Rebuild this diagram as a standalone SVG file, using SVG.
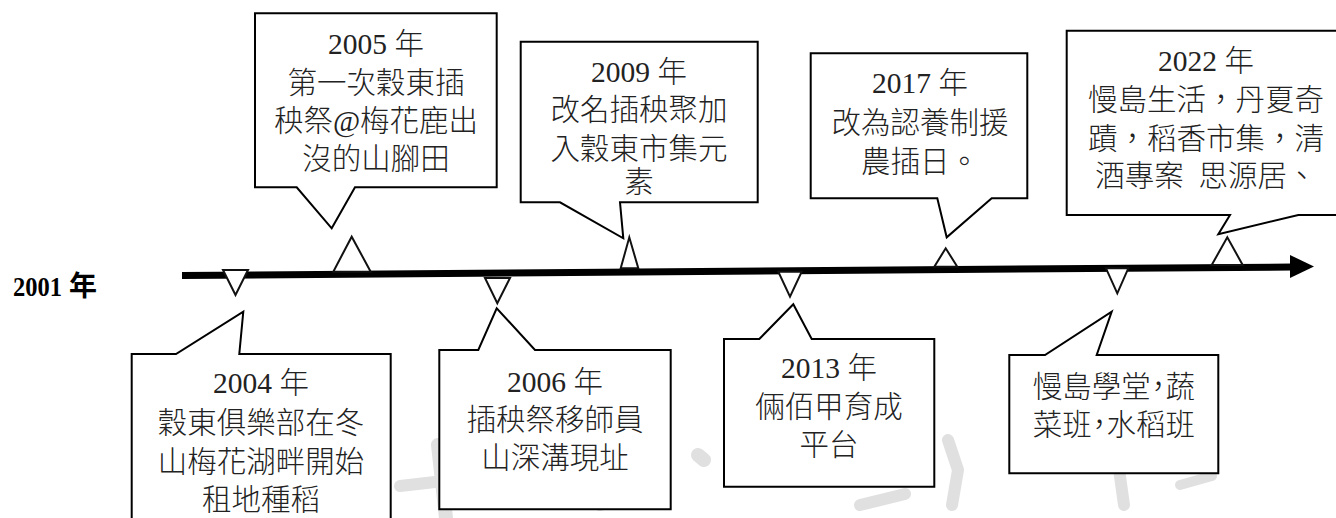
<svg xmlns="http://www.w3.org/2000/svg" width="1336" height="518" viewBox="0 0 1336 518">
<style>
.wm{fill:none;stroke:#e0e0e0;stroke-linecap:round;stroke-linejoin:round}
.box{fill:#fff;stroke:#000;stroke-width:2}
.tri{fill:#fff;stroke:#111;stroke-width:2;stroke-linejoin:miter}
.t{font-family:"Liberation Serif","Noto Sans CJK TC",serif;font-size:29.5px;font-weight:300;fill:#222;text-anchor:middle}
.lbl{font-family:"Liberation Serif","Noto Sans CJK TC",serif;font-size:28px;font-weight:bold;fill:#000}
</style>
<rect width="1336" height="518" fill="#fff"/>
<g id="watermark" class="wm">
<path d="M438,445 L446,518" stroke-width="14"/>
<path d="M400,486 L470,478" stroke-width="12"/>
<path d="M600,505 L655,486" stroke-width="12"/>
<path d="M698,455 L704,460" stroke-width="14"/>
<path d="M860,505 L905,494" stroke-width="12"/>
<path d="M948,440 L958,470 L952,505" stroke-width="12"/>
<path d="M1118,462 L1124,505" stroke-width="12"/>
<path d="M1180,485 L1212,476" stroke-width="10"/>
</g>
<g id="connectors">
<line x1="182" y1="275.5" x2="1292" y2="267" stroke="#000" stroke-width="7"/>
<polygon points="1290,255 1314,266.5 1290,278" fill="#000"/>
</g>
<g id="markers">
<polygon class="tri" points="223,270 248,270 235.5,295"/>
<polygon class="tri" points="333.3,271.7 370.7,271.7 351.7,236.7"/>
<polygon class="tri" points="485,278 510,278 497.3,303.3"/>
<polygon class="tri" points="620.7,268.3 638.3,268.3 629.3,237.3"/>
<polygon class="tri" points="778.3,271.7 801.7,271.7 790,296.7"/>
<polygon class="tri" points="934.3,266.7 957.3,266.7 945.7,248.3"/>
<polygon class="tri" points="1106,268.3 1128.3,268.3 1117.3,293.3"/>
<polygon class="tri" points="1211.7,265 1242.7,265 1227.3,237.3"/>
</g>
<g id="label2001"><text class="lbl" y="296"><tspan x="13" textLength="49" lengthAdjust="spacingAndGlyphs">2001</tspan><tspan x="69">年</tspan></text></g>
<g id="n2005">
<path class="box" d="M255,13.3 H496.7 V187.3 H355 L331.7,228.3 L296.7,187.3 H255 Z"/>
<text class="t" x="376" y="54">2005 年</text>
<text class="t" x="376" y="92.5">第一次穀東插</text>
<text class="t" x="376" y="131">秧祭@梅花鹿出</text>
<text class="t" x="376" y="169">沒的山腳田</text>
</g>
<g id="n2009">
<path class="box" d="M520.7,41.7 H757.7 V202.3 H620 L623.3,238.3 L560,202.3 H520.7 Z"/>
<text class="t" x="639" y="81.5">2009 年</text>
<text class="t" x="639" y="120">改名插秧聚加</text>
<text class="t" x="639" y="158.5">入穀東市集元</text>
<text class="t" x="639" y="192">素</text>
</g>
<g id="n2017">
<path class="box" d="M810.7,53.3 H1027.3 V198.3 H991.7 L946.7,237.3 L937.3,198.3 H810.7 Z"/>
<text class="t" x="920" y="93.3">2017 年</text>
<text class="t" x="920" y="132.5">改為認養制援</text>
<text class="t" x="920" y="171.5">農插日。</text>
</g>
<g id="n2022">
<path class="box" d="M1340,30.7 H1066.7 V215 H1230 L1218.3,234.3 L1298.3,215 H1340"/>
<text class="t" x="1206" y="71">2022 年</text>
<text class="t" x="1206" y="110">慢島生活，丹夏奇</text>
<text class="t" x="1206" y="148.5">蹟，稻香市集，清</text>
<text class="t" x="1206" y="185.5" xml:space="preserve">酒專案  思源居、</text>
</g>
<g id="n2004">
<path class="box" d="M131.7,354 H176 L243.3,311.7 L239.3,354 H390.7 V530 H131.7 Z"/>
<text class="t" x="261" y="393.3">2004 年</text>
<text class="t" x="261" y="433">穀東俱樂部在冬</text>
<text class="t" x="261" y="471.5">山梅花湖畔開始</text>
<text class="t" x="261" y="510">租地種稻</text>
</g>
<g id="n2006">
<path class="box" d="M439.3,350 H478.3 L496.7,308.3 L535,350 H670.7 V509.3 H439.3 Z"/>
<text class="t" x="555" y="391.7">2006 年</text>
<text class="t" x="555" y="430">插秧祭移師員</text>
<text class="t" x="555" y="468.3">山深溝現址</text>
</g>
<g id="n2013">
<path class="box" d="M724,339 H759.3 L793.3,304.3 L811.7,339 H934.3 V486.7 H724 Z"/>
<text class="t" x="829" y="378.3">2013 年</text>
<text class="t" x="829" y="416.7">倆佰甲育成</text>
<text class="t" x="829" y="455">平台</text>
</g>
<g id="nSchool">
<path class="box" d="M1009.3,355 H1045 L1111.7,311.7 L1096.7,355 H1218.3 V473.3 H1009.3 Z"/>
<text class="t" x="1114" y="396.7" style="font-feature-settings:'halt'">慢島學堂，蔬</text>
<text class="t" x="1114" y="435" style="font-feature-settings:'halt'">菜班，水稻班</text>
</g>
</svg>
